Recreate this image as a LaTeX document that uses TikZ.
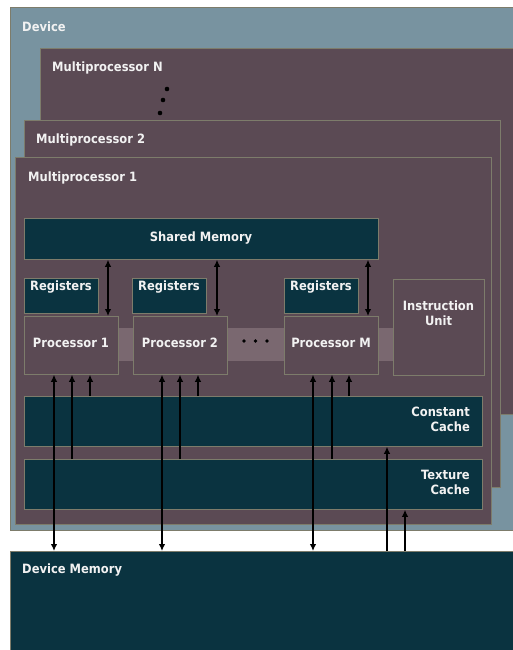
\documentclass[tikz,border=0pt]{standalone}
\usepackage{fontspec}
\setmainfont{DejaVu Sans}[FakeStretch=0.9]
\usetikzlibrary{arrows.meta}
\definecolor{devbg}{HTML}{7893A0}
\definecolor{mpfill}{HTML}{5B4A54}
\definecolor{memfill}{HTML}{0A3340}
\definecolor{edgec}{HTML}{7D7C6B}
\definecolor{busfill}{HTML}{7A6870}
\definecolor{txt}{HTML}{F2F2F2}
\begin{document}
\begin{tikzpicture}[x=1pt,y=-1pt,
  box/.style={draw=edgec, line width=0.8pt, inner sep=0pt, anchor=north west},
  mpbox/.style={box, fill=mpfill},
  membox/.style={box, fill=memfill},
  lbl/.style={text=txt, font=\fontsize{12.8}{15}\selectfont\bfseries, inner sep=0pt},
  wire/.style={line width=1.25pt, black},
  tip/.style={-{Latex[length=7pt,width=6.5pt]}},
  tips/.style={{Latex[length=7pt,width=6.5pt]}-{Latex[length=7pt,width=6.5pt]}},
  dotc/.style={circle, fill=black, inner sep=0pt}]
\clip (0,0) rectangle (513,650);
\fill[white] (0,0) rectangle (513,650);

% device and stacked multiprocessors
\node[box, fill=devbg, minimum width=510pt, minimum height=523pt] (device) at (10,7) {};
\node[lbl, anchor=west] (devlbl) at (22,27) {Device};
\node[mpbox, minimum width=480pt, minimum height=366pt] (mpN) at (40,48) {};
\node[lbl, anchor=west] (mpNlbl) at (52,68) {Multiprocessor N};
\node[dotc, minimum size=4.6pt] (d1) at (167,89) {};
\node[dotc, minimum size=4.6pt] (d2) at (163,100) {};
\node[dotc, minimum size=4.6pt] (d3) at (160,113) {};
\node[mpbox, minimum width=476pt, minimum height=367pt] (mp2) at (24,120) {};
\node[lbl, anchor=west] (mp2lbl) at (36,140) {Multiprocessor 2};
\node[mpbox, minimum width=476pt, minimum height=367pt] (mp1) at (15,157) {};
\node[lbl, anchor=west] (mp1lbl) at (28,178) {Multiprocessor 1};

% inside multiprocessor 1
\node[membox, minimum width=354pt, minimum height=41pt] (sm) at (24,218) {};
\node[lbl] (smlbl) at (201,238) {Shared Memory};

\node[box, draw=none, fill=busfill, minimum width=275pt, minimum height=33pt] (bus) at (118,328) {};

\node[membox, minimum width=74pt, minimum height=35pt] (r1) at (24,278) {};
\node[membox, minimum width=74pt, minimum height=35pt] (r2) at (132,278) {};
\node[membox, minimum width=74pt, minimum height=35pt] (r3) at (284,278) {};
\node[lbl] (r1lbl) at (61,287.5) {Registers};
\node[lbl] (r2lbl) at (169,287.5) {Registers};
\node[lbl] (r3lbl) at (321,287.5) {Registers};

\node[mpbox, minimum width=94pt, minimum height=58pt] (p1) at (24,316) {};
\node[mpbox, minimum width=94pt, minimum height=58pt] (p2) at (133,316) {};
\node[mpbox, minimum width=94pt, minimum height=58pt] (pM) at (284,316) {};
\node[lbl] (p1lbl) at (71,342.5) {Processor 1};
\node[lbl] (p2lbl) at (180,342.5) {Processor 2};
\node[lbl] (pMlbl) at (331,342.5) {Processor M};
\node[dotc, minimum size=3.8pt] (e1) at (244,341) {};
\node[dotc, minimum size=3.8pt] (e2) at (255.5,341) {};
\node[dotc, minimum size=3.8pt] (e3) at (267,341) {};

\node[mpbox, minimum width=91pt, minimum height=96pt] (iu) at (393,279) {};
\node[lbl, align=center] (iulbl) at (438.5,313.5) {Instruction\\Unit};

\node[membox, minimum width=458pt, minimum height=50pt] (cc) at (24,396) {};
\node[lbl, align=right, anchor=east] (cclbl) at (470,419) {Constant\\Cache};
\node[membox, minimum width=458pt, minimum height=50pt] (tc) at (24,459) {};
\node[lbl, align=right, anchor=east] (tclbl) at (470,482.5) {Texture\\Cache};

% device memory
\node[membox, minimum width=510pt, minimum height=110pt] (dm) at (10,551) {};
\node[lbl, anchor=west] (dmlbl) at (22,570) {Device Memory};

% shared memory <-> processors
\draw[wire, tips] (sm.south -| 108,0) -- (p1.north -| 108,0);
\draw[wire, tips] (sm.south -| 217,0) -- (p2.north -| 217,0);
\draw[wire, tips] (sm.south -| 368,0) -- (pM.north -| 368,0);

% processors <-> device memory
\draw[wire, tips] (p1.south -| 54,0) -- (dm.north -| 54,0);
\draw[wire, tips] (p2.south -| 162,0) -- (dm.north -| 162,0);
\draw[wire, tips] (pM.south -| 313,0) -- (dm.north -| 313,0);

% texture cache -> processors
\draw[wire, tip] (tc.north -| 72,0) -- (p1.south -| 72,0);
\draw[wire, tip] (tc.north -| 180,0) -- (p2.south -| 180,0);
\draw[wire, tip] (tc.north -| 332,0) -- (pM.south -| 332,0);

% constant cache -> processors
\draw[wire, tip] (cc.north -| 90,0) -- (p1.south -| 90,0);
\draw[wire, tip] (cc.north -| 198,0) -- (p2.south -| 198,0);
\draw[wire, tip] (cc.north -| 349,0) -- (pM.south -| 349,0);

% device memory -> caches
\draw[wire, tip] (dm.north -| 387,0) -- (cc.south -| 387,0);
\draw[wire, tip] (dm.north -| 405,0) -- (tc.south -| 405,0);
\end{tikzpicture}
\end{document}
